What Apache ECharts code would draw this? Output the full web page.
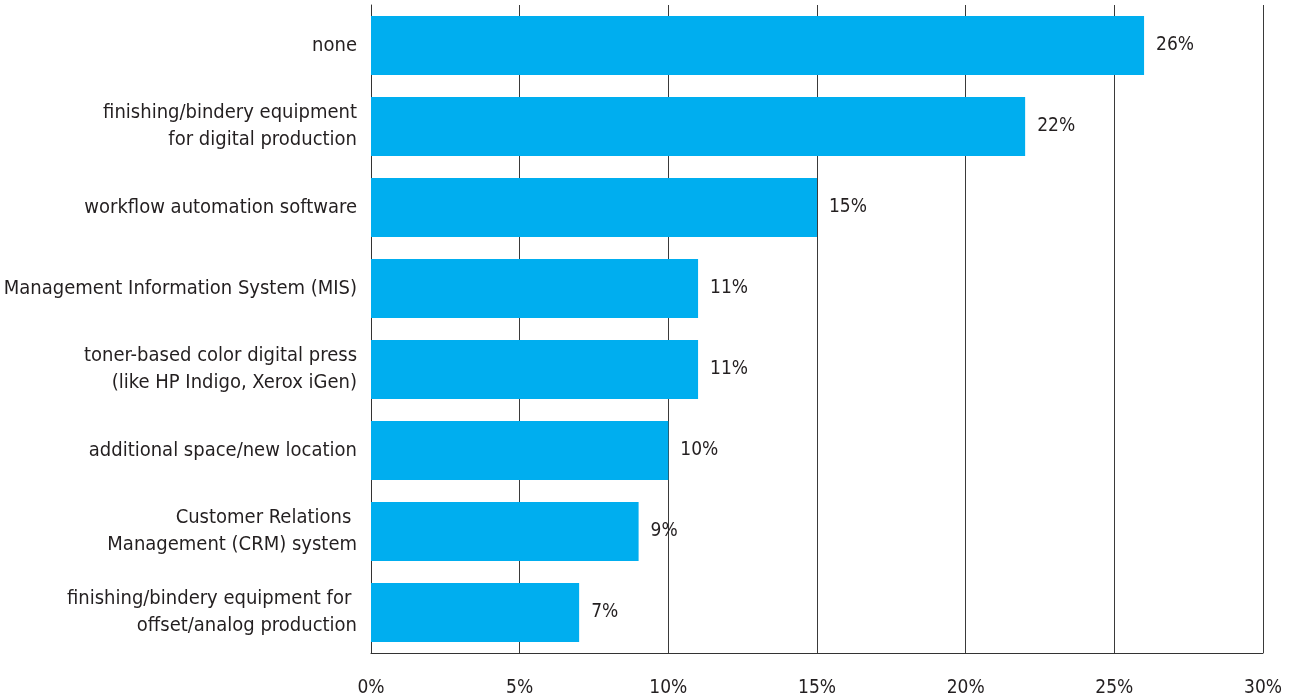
<!DOCTYPE html>
<html>
<head>
<meta charset="utf-8">
<style>
  html, body { margin: 0; padding: 0; background: #ffffff; }
  #chart { width: 1294px; height: 700px; }
</style>
<script src="https://cdn.jsdelivr.net/npm/echarts@6/dist/echarts.min.js"></script>
</head>
<body>
<div id="chart"></div>
<script>
// Survey answers, top to bottom
const categories = [
  'none',
  'finishing/bindery equipment\nfor digital production',
  'workflow automation software',
  'Management Information System (MIS)',
  'toner-based color digital press\n(like HP Indigo, Xerox iGen)',
  'additional space/new location',
  'Customer Relations \nManagement (CRM) system',
  'finishing/bindery equipment for \noffset/analog production'
];

// Share of respondents, percent
const shares = [26, 22, 15, 11, 11, 10, 9, 7];

// Value axis ticks
const tickValues = [0, 5, 10, 15, 20, 25, 30];

const FONT = '"Liberation Sans Narrow", "DejaVu Sans Condensed", sans-serif';
const INK = '#231f20';

const chart = echarts.init(document.getElementById('chart'));
chart.setOption({
  animation: false,
  backgroundColor: '#ffffff',
  grid: { left: 371, right: 31, top: 5, bottom: 47, containLabel: false },
  xAxis: {
    type: 'value',
    min: tickValues[0],
    max: tickValues[tickValues.length - 1],
    interval: tickValues[1] - tickValues[0],
    axisLine: { show: true, lineStyle: { color: '#333333', width: 1 } },
    axisTick: { show: false },
    splitLine: { show: true, lineStyle: { color: '#3a3a3a', width: 1 } },
    axisLabel: {
      margin: 26,
      fontFamily: FONT,
      fontSize: 19,
      color: INK,
      formatter: '{value}%'
    }
  },
  yAxis: {
    type: 'category',
    inverse: true,
    data: categories,
    axisLine: { show: true, lineStyle: { color: '#333333', width: 1 } },
    axisTick: { show: false },
    splitLine: { show: false },
    axisLabel: {
      margin: 14,
      fontFamily: FONT,
      fontSize: 20,
      lineHeight: 27,
      color: INK,
      align: 'right'
    }
  },
  series: [{
    type: 'bar',
    data: shares,
    barCategoryGap: '27%',
    itemStyle: { color: '#00aeef' },
    label: {
      show: true,
      position: 'right',
      distance: 12,
      fontFamily: FONT,
      fontSize: 19,
      color: INK,
      formatter: p => p.value + '%'
    }
  }]
});
</script>
</body>
</html>
